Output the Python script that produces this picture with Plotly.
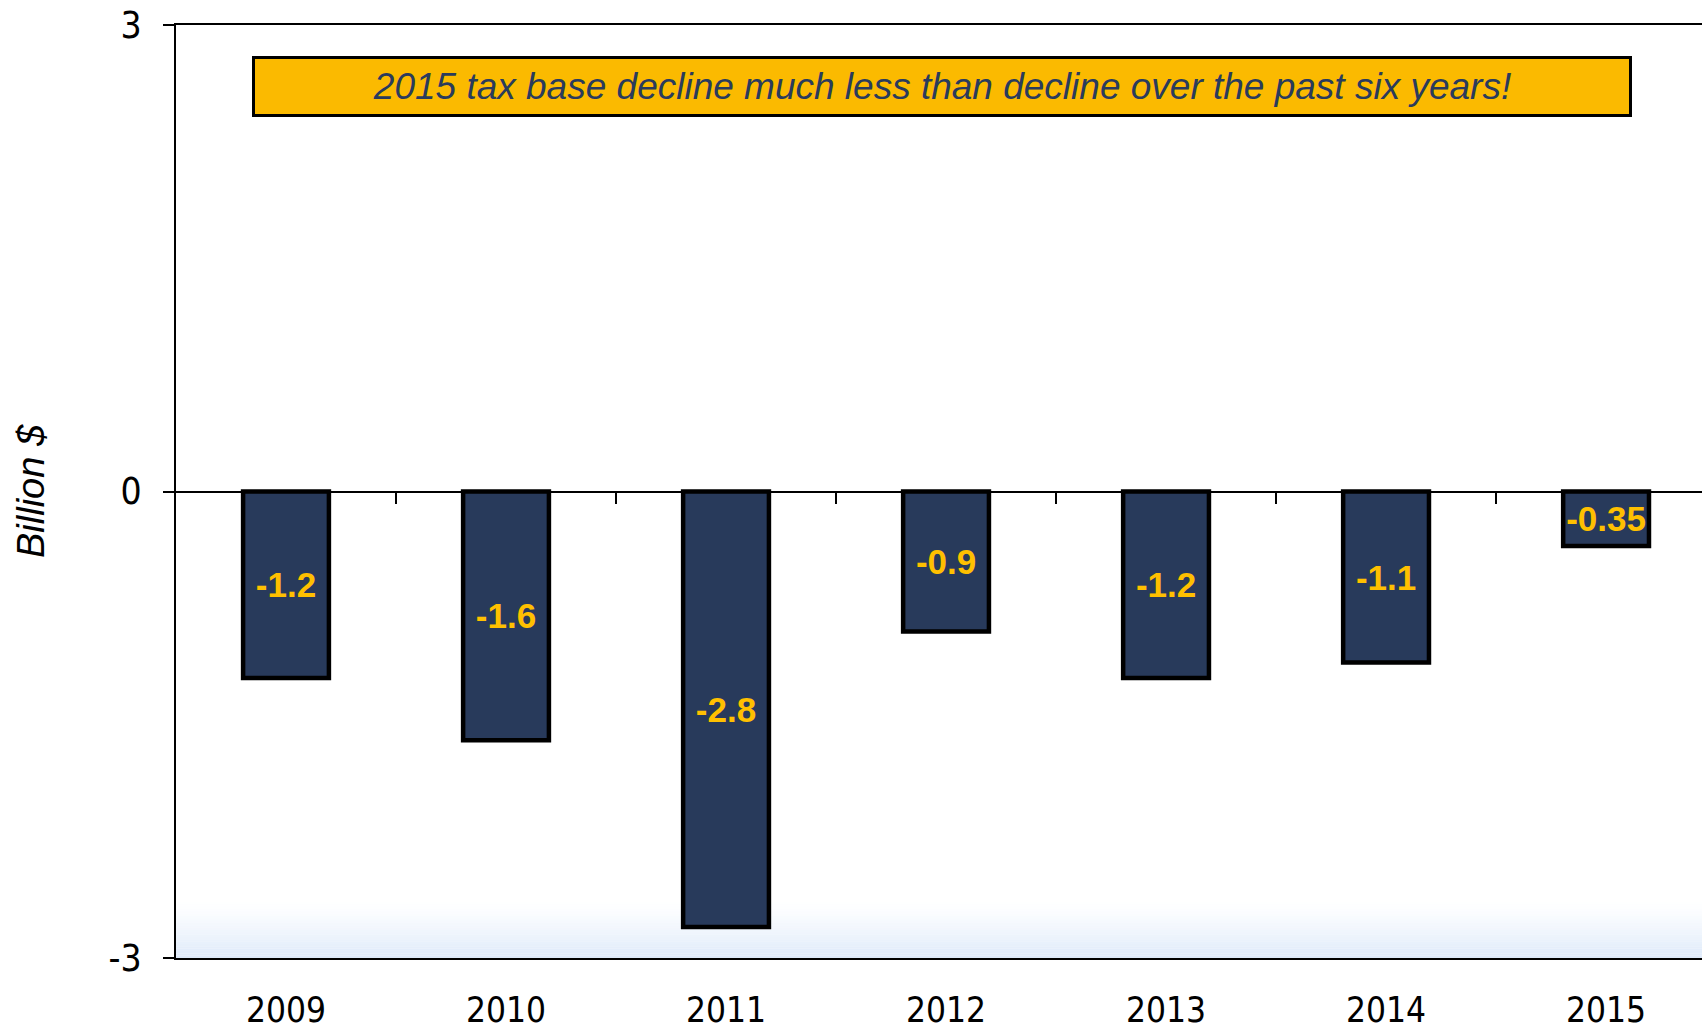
import plotly.graph_objects as go

years = ["2009", "2010", "2011", "2012", "2013", "2014", "2015"]
change = [-1.2, -1.6, -2.8, -0.9, -1.2, -1.1, -0.35]
labels = ["-1.2", "-1.6", "-2.8", "-0.9", "-1.2", "-1.1", "-0.35"]
y_ticks = [-3, 0, 3]
y_tick_text = ["-3", "0", "3"]
headline = "2015 tax base decline much less than decline over the past six years!"
y_title = "Billion $"

W, H = 1702, 1027
xr = [-0.5, 6.436]

fig = go.Figure()
fig.add_trace(go.Bar(
    x=years, y=change, text=labels, width=0.39,
    marker=dict(color="#283A5B", line=dict(color="black", width=4.5)),
    textposition="inside", insidetextanchor="middle", constraintext="none",
    textangle=0,
    textfont=dict(family="Liberation Sans, Arial", size=35, color="#FFC000", weight="bold"),
    cliponaxis=False,
))
# helper trace for the category-boundary ticks on the zero line
fig.add_trace(go.Scatter(
    x=list(range(len(years))), y=change, xaxis="x2", mode="markers",
    marker=dict(opacity=0), hoverinfo="skip", showlegend=False,
))

# faint blue gradient at bottom of plot area
n = 24
for i in range(n):
    a = (1 - i / n) ** 1.3
    fig.add_shape(type="rect", xref="paper", yref="paper",
                  x0=0, x1=1, y0=0.06 * i / n, y1=0.06 * (i + 1) / n,
                  fillcolor=f"rgba(222,234,250,{a:.3f})", line=dict(width=0), layer="below")

fig.add_annotation(
    xref="paper", yref="paper", x=0.502, y=0.9346, xanchor="center", yanchor="middle",
    text=headline, showarrow=False, width=1374, height=55,
    bgcolor="#FBBA00", bordercolor="black", borderwidth=3, borderpad=0,
    font=dict(family="Liberation Sans, Arial", size=37, color="#2A3B5C", style="italic"),
)

fig.update_layout(
    width=W, height=H,
    margin=dict(l=176, r=0, t=25, b=69, autoexpand=False),
    paper_bgcolor="white", plot_bgcolor="white",
    showlegend=False, bargap=0.6,
    xaxis=dict(
        type="category", range=xr, showgrid=False, showline=True, linecolor="black",
        linewidth=2, mirror=True, ticks="", ticklabelstandoff=20, automargin=False,
        ticklabeloverflow="allow",
        tickfont=dict(family="DejaVu Sans Condensed, Noto Sans", size=35, color="black"),
    ),
    xaxis2=dict(
        overlaying="x", anchor="free", position=0.5, side="bottom", range=xr,
        tickvals=[0.5, 1.5, 2.5, 3.5, 4.5, 5.5], ticks="outside", ticklen=11,
        tickwidth=1.5, tickcolor="black", showticklabels=False, showgrid=False,
        showline=False, zeroline=False, automargin=False,
    ),
    yaxis=dict(
        range=[-3, 3], tickvals=y_ticks, ticktext=y_tick_text, showgrid=False, zeroline=True,
        zerolinecolor="black", zerolinewidth=1.5, showline=True, linecolor="black",
        linewidth=2, ticks="outside", ticklen=11, tickwidth=1.5, tickcolor="black",
        ticklabelstandoff=14, automargin=False, ticklabeloverflow="allow",
        tickfont=dict(family="DejaVu Sans Condensed, Noto Sans", size=37, color="black"),
        title=dict(text=y_title, standoff=52,
                   font=dict(family="Liberation Sans, Arial", size=38, color="black", style="italic")),
    ),
)

fig.write_html(
    "out.html",
    config={"displayModeBar": False},
    post_script="document.body.style.margin='0px';document.body.style.overflow='hidden';",
)
